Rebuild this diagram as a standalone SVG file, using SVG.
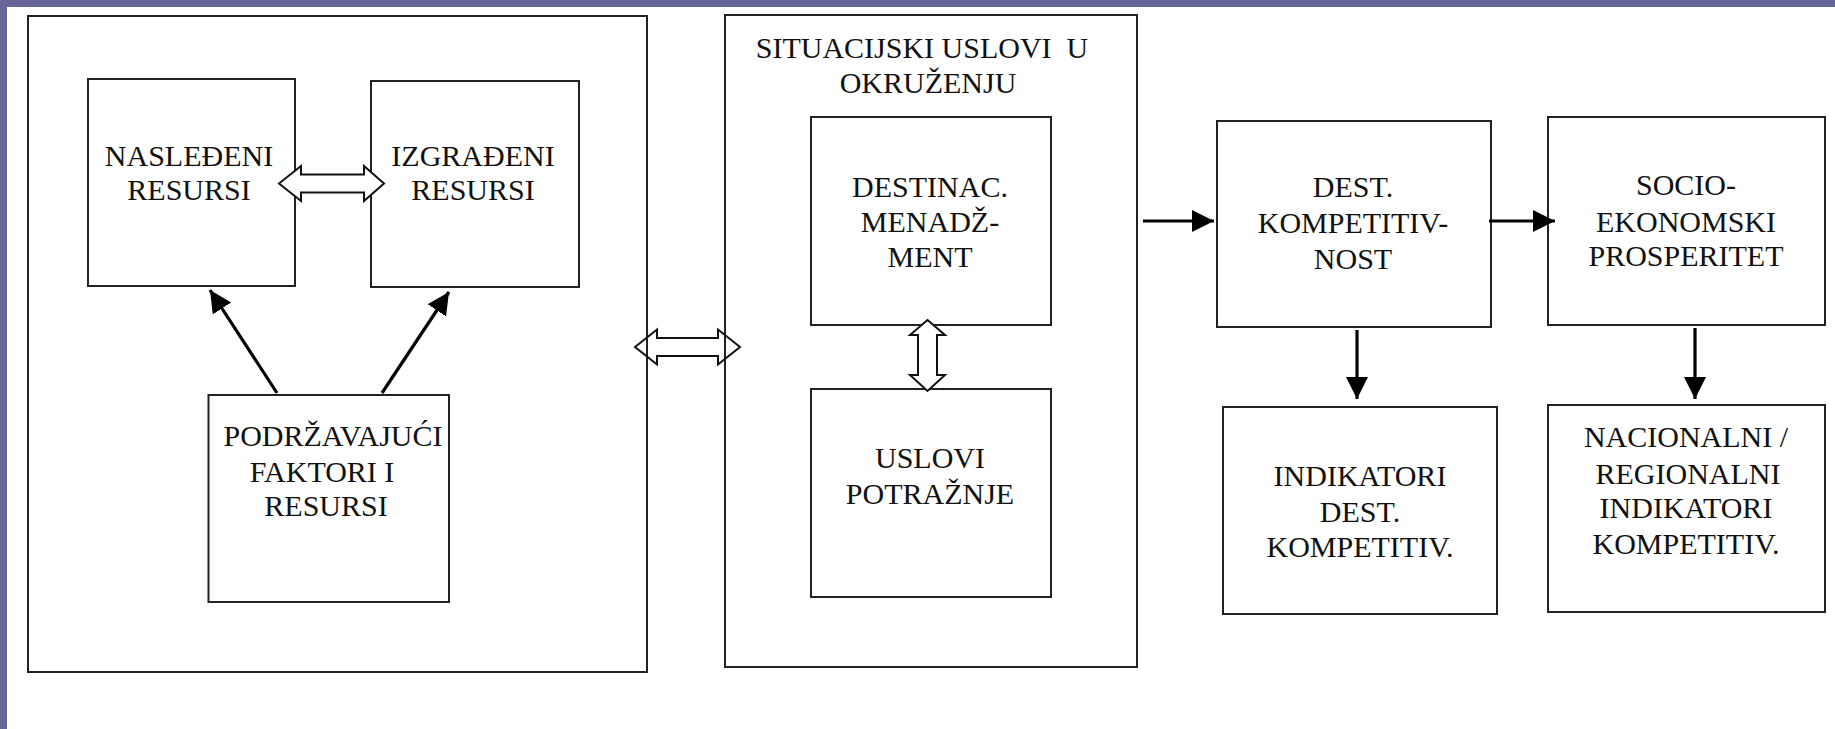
<svg xmlns="http://www.w3.org/2000/svg" width="1835" height="729" viewBox="0 0 1835 729">
  <style>
    .box { fill: #ffffff; stroke: #222222; stroke-width: 2; }
    .lbl { font-family: 'Liberation Serif', 'DejaVu Serif', serif; font-size: 30px; fill: #111111; text-anchor: middle; }
    .arr { stroke: #000000; stroke-width: 3.2; fill: none; marker-end: url(#head); }
    .dbl { fill: #ffffff; stroke: #111111; stroke-width: 2; stroke-linejoin: miter; }
  </style>
  <defs>
    <marker id="head" markerUnits="userSpaceOnUse" markerWidth="24" markerHeight="24" refX="22" refY="11" orient="auto" viewBox="0 0 24 24">
      <path d="M0,0 L22,11 L0,22 Z" fill="#000000"/>
    </marker>
  </defs>
  <rect x="0" y="0" width="1835" height="729" fill="#ffffff"/>
  <rect x="0" y="0" width="1835" height="7" fill="#666699"/>
  <rect x="0" y="0" width="7" height="729" fill="#666699"/>

  <g id="grp-resources">
    <rect class="box" x="28" y="16" width="619" height="656"/>
  </g>
  <g id="grp-situational" font-family="Liberation Serif, serif">
    <rect class="box" x="725" y="15" width="412" height="652"/>
    <text class="lbl" style="white-space:pre" x="922" y="58">SITUACIJSKI USLOVI  U</text>
    <text class="lbl" x="928" y="93">OKRUŽENJU</text>
  </g>
  <g id="node-nasledjeni">
    <rect class="box" x="88" y="79" width="207" height="207"/>
    <text class="lbl" x="189" y="166">NASLEĐENI</text>
    <text class="lbl" x="189" y="200">RESURSI</text>
  </g>
  <g id="node-izgradjeni">
    <rect class="box" x="371" y="81" width="208" height="206"/>
    <text class="lbl" x="473" y="166">IZGRAĐENI</text>
    <text class="lbl" x="473" y="200">RESURSI</text>
  </g>
  <g id="node-podrzavajuci">
    <rect class="box" x="208.5" y="395" width="240.5" height="207"/>
    <text class="lbl" x="333" y="446">PODRŽAVAJUĆI</text>
    <text class="lbl" x="322" y="482">FAKTORI I</text>
    <text class="lbl" x="326" y="516">RESURSI</text>
  </g>
  <g id="node-destinac">
    <rect class="box" x="811" y="117" width="240" height="208"/>
    <text class="lbl" x="930" y="197">DESTINAC.</text>
    <text class="lbl" x="930" y="232">MENADŽ-</text>
    <text class="lbl" x="930" y="267">MENT</text>
  </g>
  <g id="node-uslovi">
    <rect class="box" x="811" y="389" width="240" height="208"/>
    <text class="lbl" x="930" y="468">USLOVI</text>
    <text class="lbl" x="930" y="504">POTRAŽNJE</text>
  </g>
  <g id="node-dest">
    <rect class="box" x="1217" y="121" width="274" height="206"/>
    <text class="lbl" x="1353" y="197">DEST.</text>
    <text class="lbl" x="1353" y="233">KOMPETITIV-</text>
    <text class="lbl" x="1353" y="269">NOST</text>
  </g>
  <g id="node-socio">
    <rect class="box" x="1548" y="117" width="277" height="208"/>
    <text class="lbl" x="1686" y="195">SOCIO-</text>
    <text class="lbl" x="1686" y="232">EKONOMSKI</text>
    <text class="lbl" x="1686" y="266">PROSPERITET</text>
  </g>
  <g id="node-indikatori">
    <rect class="box" x="1223" y="407" width="274" height="207"/>
    <text class="lbl" x="1360" y="486">INDIKATORI</text>
    <text class="lbl" x="1360" y="522">DEST.</text>
    <text class="lbl" x="1360" y="557">KOMPETITIV.</text>
  </g>
  <g id="node-nacionalni">
    <rect class="box" x="1548" y="405" width="277" height="207"/>
    <text class="lbl" x="1686" y="447">NACIONALNI /</text>
    <text class="lbl" x="1688" y="484">REGIONALNI</text>
    <text class="lbl" x="1686" y="518">INDIKATORI</text>
    <text class="lbl" x="1686" y="554">KOMPETITIV.</text>
  </g>

  <g id="connectors">
    <line class="arr" x1="277" y1="393" x2="210" y2="290"/>
    <line class="arr" x1="382" y1="393" x2="449" y2="292"/>
    <line class="arr" x1="1143" y1="221" x2="1214" y2="221"/>
    <line class="arr" x1="1489" y1="221" x2="1555" y2="221"/>
    <line class="arr" x1="1357" y1="330" x2="1357" y2="399"/>
    <line class="arr" x1="1695" y1="328" x2="1695" y2="399"/>
    <path class="dbl" d="M279,183.5 L301,166 L301,174.5 L364,174.5 L364,166 L384,183.5 L364,201 L364,192.5 L301,192.5 L301,201 Z"/>
    <path class="dbl" style="fill:none" d="M635,347 L657,329.5 L657,338 L718,338 L718,329.5 L740,347 L718,364.5 L718,356 L657,356 L657,364.5 Z"/>
    <path class="dbl" d="M927.5,320 L945,335 L937,335 L937,375 L945,375 L927.5,391 L910,375 L918,375 L918,335 L910,335 Z"/>
  </g>
</svg>
